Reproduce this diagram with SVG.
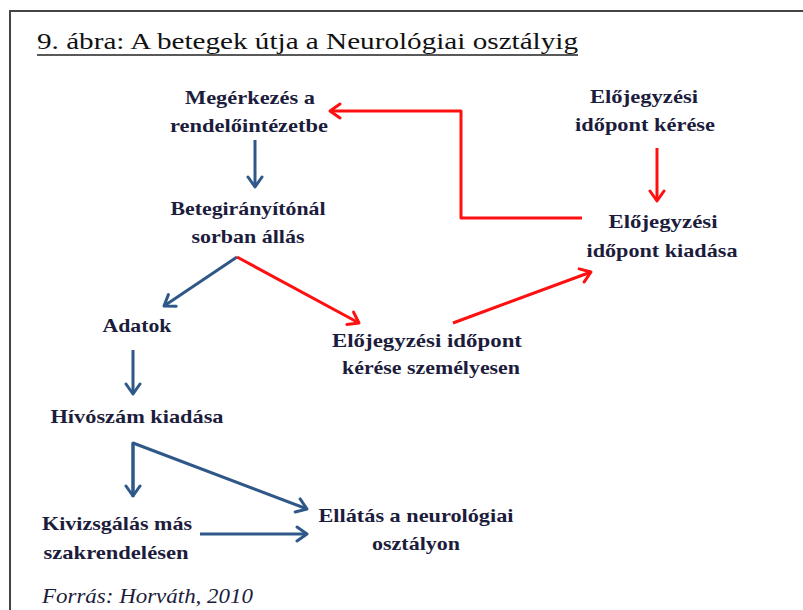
<svg xmlns="http://www.w3.org/2000/svg" width="803" height="610" viewBox="0 0 803 610">
<style>
.t{font-family:"Liberation Serif","Times New Roman",serif;font-weight:bold;font-size:19.5px;fill:#1c1c3c;text-anchor:middle}
.b{fill:none;stroke:#2f5889;stroke-width:3;stroke-linejoin:round}
.r{fill:none;stroke:#ff1010;stroke-width:3;stroke-linejoin:round}
</style>
<defs>
<marker id="ab" markerUnits="userSpaceOnUse" markerWidth="20" markerHeight="20" refX="12" refY="8" orient="auto" viewBox="0 0 20 16">
<path d="M2,1 L12,8 L2,15" fill="none" stroke="#2f5889" stroke-width="3" stroke-linecap="round" stroke-linejoin="round"/>
</marker>
<marker id="ar" markerUnits="userSpaceOnUse" markerWidth="20" markerHeight="20" refX="12" refY="8" orient="auto" viewBox="0 0 20 16">
<path d="M2,1 L12,8 L2,15" fill="none" stroke="#ff1010" stroke-width="3" stroke-linecap="round" stroke-linejoin="round"/>
</marker>
</defs>
<rect width="803" height="610" fill="#fff"/>
<path d="M10,610 V11 H803" fill="none" stroke="#444" stroke-width="2"/>
<text x="37" y="49" font-family="Liberation Serif, serif" font-size="24" fill="#111" textLength="541" lengthAdjust="spacingAndGlyphs">9. ábra: A betegek útja a Neurológiai osztályig</text>
<line x1="37" y1="55" x2="578" y2="55" stroke="#222" stroke-width="1.5"/>
<g id="connectors">
<line class="b" x1="255" y1="140" x2="255" y2="187" marker-end="url(#ab)"/>
<line class="b" x1="237" y1="257" x2="164" y2="306" marker-end="url(#ab)"/>
<line class="r" x1="237" y1="257" x2="359" y2="323" marker-end="url(#ar)"/>
<line class="r" x1="453" y1="323" x2="591" y2="272" marker-end="url(#ar)"/>
<line class="r" x1="657" y1="148" x2="657" y2="201" marker-end="url(#ar)"/>
<polyline class="r" points="582,218 461,218 461,111 330,111" marker-end="url(#ar)"/>
<line class="b" x1="133" y1="350" x2="133" y2="394" marker-end="url(#ab)"/>
<polyline class="b" points="133,497 133,443 307,509" marker-end="url(#ab)"/>
<line class="b" x1="133" y1="443" x2="133" y2="496" marker-end="url(#ab)"/>
<line class="b" x1="200" y1="534" x2="307" y2="534" marker-end="url(#ab)"/>
</g>
<g id="n1"><text class="t" x="250" y="104" textLength="130" lengthAdjust="spacingAndGlyphs">Megérkezés a</text><text class="t" x="249" y="132" textLength="158" lengthAdjust="spacingAndGlyphs">rendelőintézetbe</text></g>
<g id="n2"><text class="t" x="644" y="103" textLength="108" lengthAdjust="spacingAndGlyphs">Előjegyzési</text><text class="t" x="645" y="131" textLength="140" lengthAdjust="spacingAndGlyphs">időpont kérése</text></g>
<g id="n3"><text class="t" x="248" y="215" textLength="155" lengthAdjust="spacingAndGlyphs">Betegirányítónál</text><text class="t" x="248" y="243" textLength="113" lengthAdjust="spacingAndGlyphs">sorban állás</text></g>
<g id="n4"><text class="t" x="663" y="228" textLength="109" lengthAdjust="spacingAndGlyphs">Előjegyzési</text><text class="t" x="662" y="257" textLength="151" lengthAdjust="spacingAndGlyphs">időpont kiadása</text></g>
<g id="n5"><text class="t" x="137" y="332" textLength="69" lengthAdjust="spacingAndGlyphs">Adatok</text></g>
<g id="n6"><text class="t" x="427" y="347" textLength="190" lengthAdjust="spacingAndGlyphs">Előjegyzési időpont</text><text class="t" x="431" y="374" textLength="178" lengthAdjust="spacingAndGlyphs">kérése személyesen</text></g>
<g id="n7"><text class="t" x="137" y="423" textLength="173" lengthAdjust="spacingAndGlyphs">Hívószám kiadása</text></g>
<g id="n8"><text class="t" x="117" y="530" textLength="150" lengthAdjust="spacingAndGlyphs">Kivizsgálás más</text><text class="t" x="116" y="559" textLength="145" lengthAdjust="spacingAndGlyphs">szakrendelésen</text></g>
<g id="n9"><text class="t" x="416" y="522" textLength="195" lengthAdjust="spacingAndGlyphs">Ellátás a neurológiai</text><text class="t" x="416" y="550" textLength="88" lengthAdjust="spacingAndGlyphs">osztályon</text></g>
<text x="42" y="603" font-family="Liberation Serif, serif" font-style="italic" font-size="22" fill="#1c1c3c" textLength="211" lengthAdjust="spacingAndGlyphs">Forrás: Horváth, 2010</text>
</svg>
